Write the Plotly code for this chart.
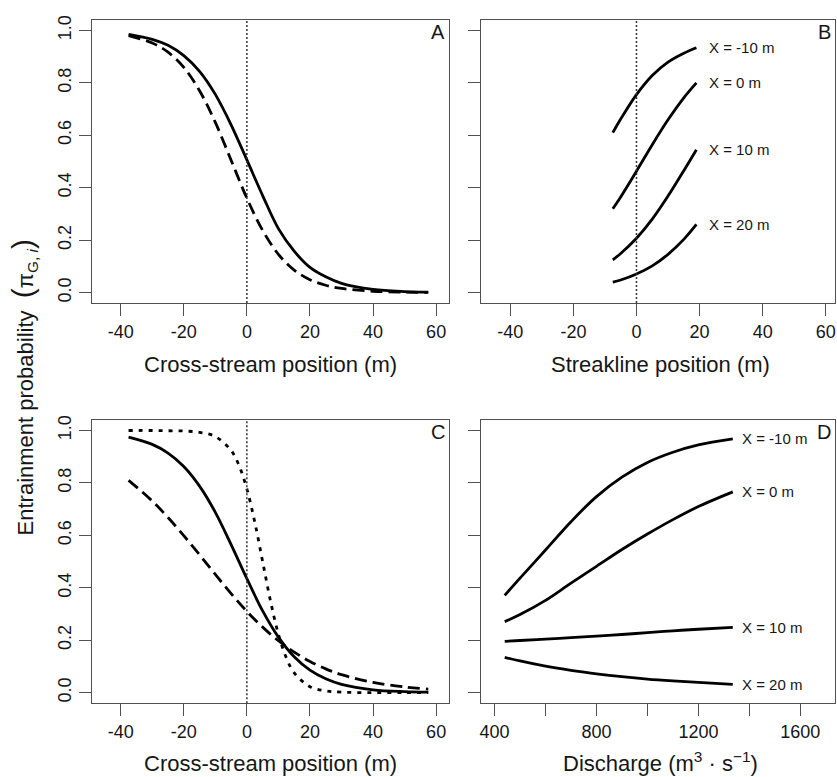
import plotly.graph_objects as go

# ---------------- data ----------------
# Panel A: cross-stream position vs entrainment probability
xA = [-37.5, -30, -25, -20, -15, -10, -5, 0, 5, 10, 15, 20, 25, 30, 40, 50, 57.5]
A_solid = [0.985, 0.966, 0.943, 0.904, 0.844, 0.756, 0.640, 0.506, 0.370, 0.244, 0.158, 0.096, 0.060, 0.035, 0.012, 0.004, 0.002]
A_dash = [0.980, 0.952, 0.917, 0.859, 0.770, 0.649, 0.505, 0.360, 0.237, 0.146, 0.086, 0.049, 0.028, 0.016, 0.005, 0.0015, 0.0006]

# Panel B: streakline position, one curve per X
xB = [-7.5, -5, 0, 5, 10, 15, 19]
B_labels = ["X = -10 m", "X = 0 m", "X = 10 m", "X = 20 m"]
B_m10 = [0.61, 0.662, 0.755, 0.828, 0.879, 0.913, 0.934]
B_0 = [0.32, 0.365, 0.463, 0.564, 0.659, 0.743, 0.80]
B_10 = [0.125, 0.149, 0.207, 0.28, 0.368, 0.465, 0.545]
B_20 = [0.04, 0.048, 0.071, 0.102, 0.146, 0.203, 0.26]

# Panel C: cross-stream position, three scenarios
xC = [-37.5, -30, -25, -20, -15, -10, -5, 0, 5, 10, 15, 20, 25, 30, 40, 50, 57.5]
C_solid = [0.975, 0.947, 0.914, 0.863, 0.788, 0.688, 0.565, 0.435, 0.312, 0.212, 0.137, 0.086, 0.053, 0.032, 0.011, 0.004, 0.002]
C_dash = [0.810, 0.731, 0.668, 0.599, 0.526, 0.451, 0.378, 0.310, 0.250, 0.198, 0.155, 0.119, 0.091, 0.069, 0.039, 0.022, 0.014]
xC_dot = [-37.5, -30, -25, -20, -15, -10, -5, -2.5, 0, 2.5, 5, 7.5, 10, 12.5, 15, 20, 25, 30, 40, 50, 57.5]
C_dot = [1.0, 1.0, 0.999, 0.998, 0.993, 0.977, 0.924, 0.867, 0.777, 0.651, 0.5, 0.349, 0.223, 0.133, 0.076, 0.023, 0.007, 0.002, 0.0002, 0.0, 0.0]

# Panel D: discharge, one curve per X
xD = [440, 500, 600, 700, 800, 900, 1000, 1100, 1200, 1335]
D_m10 = [0.371, 0.437, 0.544, 0.652, 0.748, 0.822, 0.878, 0.917, 0.945, 0.968]
D_0 = [0.271, 0.298, 0.352, 0.418, 0.482, 0.546, 0.605, 0.66, 0.71, 0.766]
D_10 = [0.196, 0.199, 0.204, 0.21, 0.216, 0.222, 0.229, 0.236, 0.242, 0.249]
D_20 = [0.135, 0.121, 0.101, 0.085, 0.072, 0.061, 0.052, 0.045, 0.039, 0.032]

y_ticks = [0, 0.2, 0.4, 0.6, 0.8, 1.0]
y_ticktext = ["0.0", "0.2", "0.4", "0.6", "0.8", "1.0"]
x_ticks = [-40, -20, 0, 20, 40, 60]
x_ticktext = ["-40", "-20", "0", "20", "40", "60"]
q_ticks = [400, 800, 1200, 1600]
q_minor = [600, 1000, 1400]

# ---------------- figure ----------------
W, H = 837, 777
FONT = "Liberation Sans, Arial, Helvetica, sans-serif"
FRAME = "#505050"
TXT = "#161616"
LW = 2.8

fig = go.Figure()

def line(x, y, ax, dash="solid"):
    fig.add_trace(go.Scatter(x=x, y=y, mode="lines", xaxis=ax[0], yaxis=ax[1],
                             line=dict(color="black", width=LW, dash=dash, shape="spline", smoothing=1.0),
                             showlegend=False, hoverinfo="skip"))

LONGDASH = "12px,6px"
DOTS = "4px,6px"

line(xA, A_solid, ("x", "y"))
line(xA, A_dash, ("x", "y"), LONGDASH)

for ys in (B_m10, B_0, B_10, B_20):
    line(xB, ys, ("x2", "y2"))

line(xC, C_solid, ("x3", "y3"))
line(xC, C_dash, ("x3", "y3"), LONGDASH)
line(xC_dot, C_dot, ("x3", "y3"), DOTS)

for ys in (D_m10, D_0, D_10, D_20):
    line(xD, ys, ("x4", "y4"))

def px_x(a, b):
    return [a / W, b / W]

def px_y(top, bottom):
    return [1 - bottom / H, 1 - top / H]

axis_common = dict(showline=True, mirror=True, linecolor=FRAME, linewidth=1.3,
                   ticks="outside", ticklen=12, tickwidth=1.3, tickcolor=FRAME,
                   showgrid=False, zeroline=False,
                   tickfont=dict(family=FONT, size=18, color=TXT))

leftA, rightA = 90, 449
leftB, rightB = 481, 836
topT, botT = 15, 300
topB, botB = 417.7, 702.7
xr = [-49.2, 64.2]
xrB = [-49.2, -49.2 + (rightB - leftB) / ((rightA - leftA) / (xr[1] - xr[0]))]
qr = [348, 348 + (rightB - leftB) * 3.91]
yr = [-0.04, 1.04]

fig.update_layout(
    width=W, height=H, margin=dict(l=0, r=0, t=0, b=0),
    plot_bgcolor="white", paper_bgcolor="white",
    font=dict(family=FONT, color=TXT),
    xaxis=dict(domain=px_x(leftA, rightA), range=xr, tickvals=x_ticks, ticktext=x_ticktext,
               anchor="y", **axis_common),
    yaxis=dict(domain=px_y(topT, botT), range=yr, tickvals=y_ticks, ticktext=y_ticktext,
               tickangle=-90, anchor="x", **axis_common),
    xaxis2=dict(domain=px_x(leftB, rightB), range=xrB, tickvals=x_ticks, ticktext=x_ticktext,
                anchor="y2", **axis_common),
    yaxis2=dict(domain=px_y(topT, botT), range=yr, tickvals=y_ticks, showticklabels=False,
                anchor="x2", **axis_common),
    xaxis3=dict(domain=px_x(leftA, rightA), range=xr, tickvals=x_ticks, ticktext=x_ticktext,
                anchor="y3", **axis_common),
    yaxis3=dict(domain=px_y(topB, botB), range=yr, tickvals=y_ticks, ticktext=y_ticktext,
                tickangle=-90, anchor="x3", **axis_common),
    xaxis4=dict(domain=px_x(leftB, rightB), range=qr, tickvals=q_ticks,
                minor=dict(tickvals=q_minor, ticks="outside", ticklen=12, tickwidth=1.3, tickcolor=FRAME),
                anchor="y4", **axis_common),
    yaxis4=dict(domain=px_y(topB, botB), range=yr, tickvals=y_ticks, showticklabels=False,
                anchor="x4", **axis_common),
)

# dotted vertical reference lines at x = 0
for xa, ya in (("x", "y"), ("x2", "y2"), ("x3", "y3")):
    fig.add_shape(type="line", x0=0, x1=0, xref=xa, y0=0, y1=1, yref=ya + " domain",
                  line=dict(color="#333333", width=1.5, dash="2px,2px"))

ann = []
# panel letters
for letter, xa, ya in (("A", "x", "y"), ("B", "x2", "y2"), ("C", "x3", "y3"), ("D", "x4", "y4")):
    ann.append(dict(text=letter, xref=xa + " domain", yref=ya + " domain", x=1, y=1,
                    xanchor="right", yanchor="top", xshift=-2, yshift=1, showarrow=False,
                    font=dict(family=FONT, size=20, color=TXT)))

# curve labels B
for lab, ys in zip(B_labels, (B_m10, B_0, B_10, B_20)):
    ann.append(dict(text=lab, xref="x2", yref="y2", x=xB[-1] + 3.5, y=ys[-1], xanchor="left",
                    yanchor="middle", showarrow=False, font=dict(family=FONT, size=15, color=TXT)))
# curve labels D
for lab, ys in zip(B_labels, (D_m10, D_0, D_10, D_20)):
    ann.append(dict(text=lab, xref="x4", yref="y4", x=xD[-1] + 30, y=ys[-1], xanchor="left",
                    yanchor="middle", showarrow=False, font=dict(family=FONT, size=15, color=TXT)))

# axis titles
def xtitle(text, left, right, yc):
    ann.append(dict(text=text, xref="paper", yref="paper", x=(left + right) / 2 / W, y=1 - yc / H,
                    xanchor="center", yanchor="middle", showarrow=False,
                    font=dict(family=FONT, size=22, color=TXT)))

xtitle("Cross-stream position (m)", leftA, rightA, 362)
xtitle("Streakline position (m)", leftB, 840, 362)
xtitle("Cross-stream position (m)", leftA, rightA, 763)
xtitle("Discharge (m<sup>3</sup> · s<sup>−1</sup>)", leftB, 840, 762)

ann.append(dict(text="Entrainment probability  <span style='font-size:30px'>(</span>π<sub>G, <i>i</i></sub><span style='font-size:30px'>)</span>",
                xref="paper", yref="paper", x=22 / W, y=1 - 385 / H, textangle=-90,
                xanchor="center", yanchor="middle", showarrow=False,
                font=dict(family=FONT, size=22, color=TXT)))

fig.update_layout(annotations=ann)
fig.write_html("out.html", config={"displayModeBar": False},
               post_script="document.body.style.margin='0';document.body.style.overflow='hidden';")
